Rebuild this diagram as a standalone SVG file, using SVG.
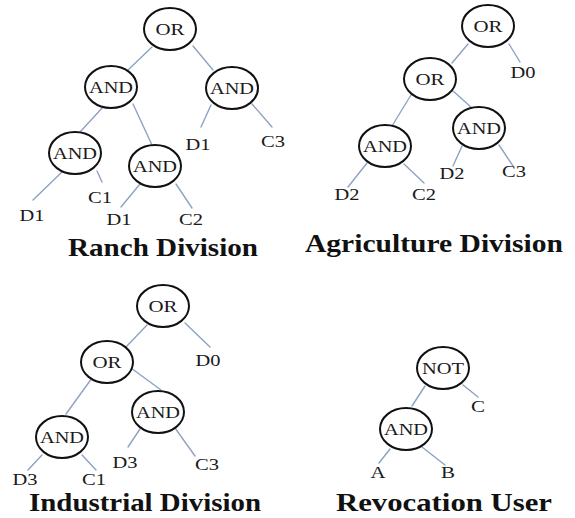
<svg xmlns="http://www.w3.org/2000/svg" width="575" height="518" viewBox="0 0 575 518">
  <style>
    .bg { fill: #ffffff; }
    .node ellipse { fill: #ffffff; stroke: #111111; stroke-width: 2; }
    .node text, .leaf { font-family: "Liberation Serif", "Times New Roman", serif; font-size: 17px; fill: #1a1a1a; text-anchor: middle; }
    .edges line { stroke: #8ea2c2; stroke-width: 1.4; stroke-linecap: round; }
    .title { font-family: "Liberation Serif", "Times New Roman", serif; font-size: 25px; font-weight: bold; fill: #111111; text-anchor: middle; }
  </style>
  <rect class="bg" x="0" y="0" width="575" height="518"/>

  <!-- connectors -->
  <g id="connectors" class="edges">
    <!-- Ranch Division -->
    <line x1="152" y1="47" x2="128" y2="70"/>
    <line x1="193" y1="46" x2="213" y2="70"/>
    <line x1="104" y1="106" x2="80" y2="132"/>
    <line x1="133" y1="104" x2="152" y2="145"/>
    <line x1="62" y1="172" x2="33" y2="200"/>
    <line x1="97" y1="171" x2="102" y2="182"/>
    <line x1="140" y1="184" x2="121" y2="207"/>
    <line x1="176" y1="184" x2="192" y2="208"/>
    <line x1="211" y1="105" x2="201" y2="127"/>
    <line x1="252" y1="104" x2="272" y2="127"/>
    <!-- Agriculture Division -->
    <line x1="468" y1="44" x2="452" y2="63"/>
    <line x1="509" y1="44" x2="520" y2="62"/>
    <line x1="411" y1="95" x2="392" y2="126"/>
    <line x1="453" y1="91" x2="472" y2="108"/>
    <line x1="367" y1="163" x2="348" y2="187"/>
    <line x1="404" y1="164" x2="424" y2="183"/>
    <line x1="462" y1="146" x2="453" y2="166"/>
    <line x1="499" y1="145" x2="513" y2="166"/>
    <!-- Industrial Division -->
    <line x1="147" y1="325" x2="125" y2="348"/>
    <line x1="185" y1="323" x2="210" y2="347"/>
    <line x1="92" y1="378" x2="66" y2="414"/>
    <line x1="131" y1="368" x2="161" y2="390"/>
    <line x1="42" y1="455" x2="28" y2="470"/>
    <line x1="82" y1="455" x2="96" y2="470"/>
    <line x1="140" y1="429" x2="128" y2="447"/>
    <line x1="175" y1="428" x2="195" y2="456"/>
    <!-- Revocation User -->
    <line x1="425" y1="386" x2="412" y2="406"/>
    <line x1="463" y1="385" x2="478" y2="397"/>
    <line x1="390" y1="449" x2="379" y2="463"/>
    <line x1="422" y1="447" x2="445" y2="465"/>
  </g>

  <!-- Ranch Division tree -->
  <g id="ranch-or" class="node"><ellipse cx="170" cy="29" rx="26" ry="21"/><text x="170" y="35" textLength="29" lengthAdjust="spacingAndGlyphs">OR</text></g>
  <g id="ranch-and-a" class="node"><ellipse cx="111" cy="87" rx="26" ry="21"/><text x="111" y="93" textLength="44" lengthAdjust="spacingAndGlyphs">AND</text></g>
  <g id="ranch-and-b" class="node"><ellipse cx="232" cy="88" rx="26" ry="21"/><text x="232" y="94" textLength="44" lengthAdjust="spacingAndGlyphs">AND</text></g>
  <g id="ranch-and-c" class="node"><ellipse cx="75" cy="153" rx="26" ry="21"/><text x="75" y="159" textLength="44" lengthAdjust="spacingAndGlyphs">AND</text></g>
  <g id="ranch-and-d" class="node"><ellipse cx="155" cy="166" rx="26" ry="21"/><text x="155" y="172" textLength="44" lengthAdjust="spacingAndGlyphs">AND</text></g>
  <g id="ranch-leaves">
    <text class="leaf" x="32" y="221" textLength="25" lengthAdjust="spacingAndGlyphs">D1</text>
    <text class="leaf" x="100" y="203" textLength="24" lengthAdjust="spacingAndGlyphs">C1</text>
    <text class="leaf" x="119" y="225" textLength="25" lengthAdjust="spacingAndGlyphs">D1</text>
    <text class="leaf" x="191" y="225" textLength="24" lengthAdjust="spacingAndGlyphs">C2</text>
    <text class="leaf" x="198" y="150" textLength="25" lengthAdjust="spacingAndGlyphs">D1</text>
    <text class="leaf" x="273" y="147" textLength="24" lengthAdjust="spacingAndGlyphs">C3</text>
  </g>
  <text class="title" x="163" y="256" textLength="190" lengthAdjust="spacingAndGlyphs">Ranch Division</text>

  <!-- Agriculture Division tree -->
  <g id="agri-or-root" class="node"><ellipse cx="488" cy="26" rx="26" ry="21"/><text x="488" y="32" textLength="29" lengthAdjust="spacingAndGlyphs">OR</text></g>
  <g id="agri-or" class="node"><ellipse cx="430" cy="79" rx="26" ry="21"/><text x="430" y="85" textLength="29" lengthAdjust="spacingAndGlyphs">OR</text></g>
  <g id="agri-and-a" class="node"><ellipse cx="385" cy="146" rx="26" ry="21"/><text x="385" y="152" textLength="44" lengthAdjust="spacingAndGlyphs">AND</text></g>
  <g id="agri-and-b" class="node"><ellipse cx="479" cy="128" rx="26" ry="21"/><text x="479" y="134" textLength="44" lengthAdjust="spacingAndGlyphs">AND</text></g>
  <g id="agri-leaves">
    <text class="leaf" x="523" y="78" textLength="25" lengthAdjust="spacingAndGlyphs">D0</text>
    <text class="leaf" x="347" y="200" textLength="25" lengthAdjust="spacingAndGlyphs">D2</text>
    <text class="leaf" x="424" y="200" textLength="24" lengthAdjust="spacingAndGlyphs">C2</text>
    <text class="leaf" x="452" y="179" textLength="25" lengthAdjust="spacingAndGlyphs">D2</text>
    <text class="leaf" x="514" y="177" textLength="24" lengthAdjust="spacingAndGlyphs">C3</text>
  </g>
  <text class="title" x="434" y="252" textLength="258" lengthAdjust="spacingAndGlyphs">Agriculture Division</text>

  <!-- Industrial Division tree -->
  <g id="ind-or-root" class="node"><ellipse cx="163" cy="306" rx="26" ry="21"/><text x="163" y="312" textLength="29" lengthAdjust="spacingAndGlyphs">OR</text></g>
  <g id="ind-or" class="node"><ellipse cx="107" cy="362" rx="26" ry="21"/><text x="107" y="368" textLength="29" lengthAdjust="spacingAndGlyphs">OR</text></g>
  <g id="ind-and-a" class="node"><ellipse cx="62" cy="437" rx="26" ry="21"/><text x="62" y="443" textLength="44" lengthAdjust="spacingAndGlyphs">AND</text></g>
  <g id="ind-and-b" class="node"><ellipse cx="158" cy="412" rx="26" ry="21"/><text x="158" y="418" textLength="44" lengthAdjust="spacingAndGlyphs">AND</text></g>
  <g id="ind-leaves">
    <text class="leaf" x="208" y="366" textLength="25" lengthAdjust="spacingAndGlyphs">D0</text>
    <text class="leaf" x="25" y="485" textLength="25" lengthAdjust="spacingAndGlyphs">D3</text>
    <text class="leaf" x="94" y="485" textLength="24" lengthAdjust="spacingAndGlyphs">C1</text>
    <text class="leaf" x="125" y="468" textLength="25" lengthAdjust="spacingAndGlyphs">D3</text>
    <text class="leaf" x="207" y="470" textLength="24" lengthAdjust="spacingAndGlyphs">C3</text>
  </g>
  <text class="title" x="145" y="511" textLength="232" lengthAdjust="spacingAndGlyphs">Industrial Division</text>

  <!-- Revocation User tree -->
  <g id="rev-not" class="node"><ellipse cx="443" cy="368" rx="26" ry="21"/><text x="443" y="374" textLength="42" lengthAdjust="spacingAndGlyphs">NOT</text></g>
  <g id="rev-and" class="node"><ellipse cx="406" cy="429" rx="26" ry="21"/><text x="406" y="435" textLength="44" lengthAdjust="spacingAndGlyphs">AND</text></g>
  <g id="rev-leaves">
    <text class="leaf" x="478" y="412" textLength="14" lengthAdjust="spacingAndGlyphs">C</text>
    <text class="leaf" x="378" y="478" textLength="15" lengthAdjust="spacingAndGlyphs">A</text>
    <text class="leaf" x="448" y="478" textLength="14" lengthAdjust="spacingAndGlyphs">B</text>
  </g>
  <text class="title" x="444" y="511" textLength="216" lengthAdjust="spacingAndGlyphs">Revocation User</text>
</svg>
